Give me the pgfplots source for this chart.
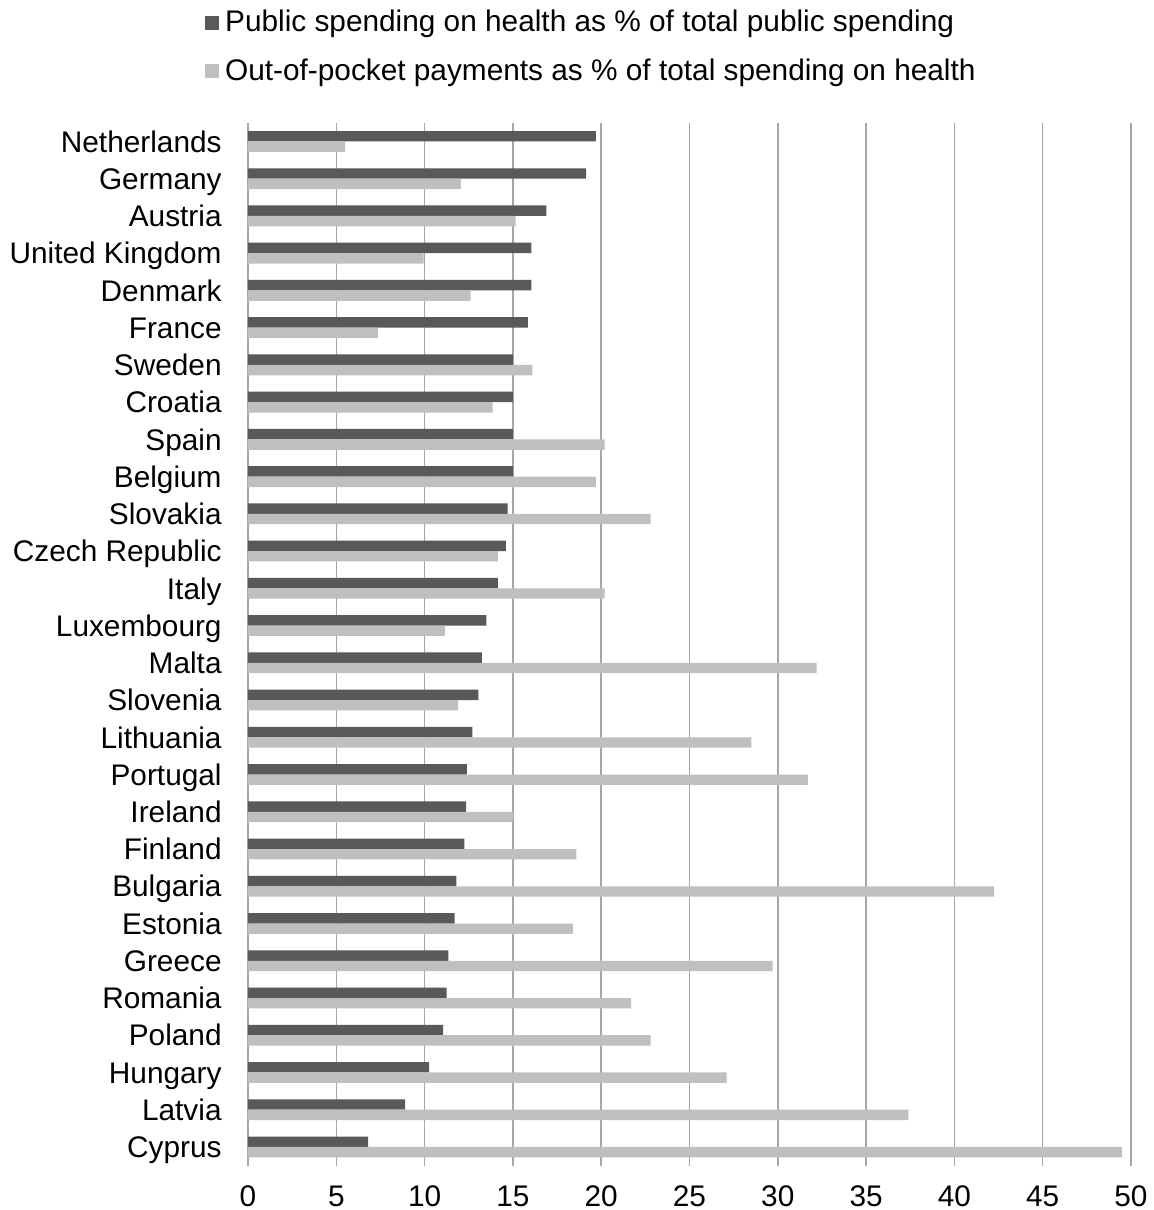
\documentclass[border=0pt]{standalone}
\usepackage{pgfplots}
\pgfplotsset{compat=1.18}
\usepackage{fontspec}
\setmainfont{Liberation Sans}
\definecolor{darkbar}{HTML}{595959}
\definecolor{lightbar}{HTML}{BFBFBF}
\definecolor{gridc}{HTML}{A6A6A6}
\begin{document}
\begin{tikzpicture}
\useasboundingbox (-124pt,-22.2pt) rectangle (452.5pt,582.8pt);
\begin{axis}[
  at={(0,0)}, anchor=south west,
  scale only axis, width=441.5pt, height=521.4pt,
  xbar, bar width=5.2pt,
  xmin=0, xmax=50, xtick={0,5,...,50},
  ymin=-0.5, ymax=27.5, ytick={0,...,27},
  yticklabels={Cyprus,Latvia,Hungary,Poland,Romania,Greece,Estonia,Bulgaria,Finland,Ireland,Portugal,Lithuania,Slovenia,Malta,Luxembourg,Italy,Czech Republic,Slovakia,Belgium,Spain,Croatia,Sweden,France,Denmark,United Kingdom,Austria,Germany,Netherlands},
  axis line style={draw=none},
  major tick length=0pt,
  xmajorgrids, grid style={gridc, line width=0.75pt},
  /pgf/number format/assume math mode=true,
  ticklabel style={font=\fontsize{14.9}{18}\selectfont, text=black, inner sep=0pt},
  yticklabel style={anchor=east, xshift=-13pt, text height=10.7pt, text depth=0pt},
  xticklabel style={anchor=north, yshift=-9.5pt, text height=10.7pt, text depth=0pt},
  legend style={at={(-0.049,1.112)}, anchor=north west, draw=none, fill=none,
    font=\fontsize{14.9}{18}\selectfont, inner sep=0pt, row sep=8pt,
    /tikz/every odd column/.append style={column sep=1pt}},
  legend cell align=left,
  legend image code/.code={\fill[#1] (0pt,-3.5pt) rectangle (7pt,3.5pt);},
]
\addplot[fill=darkbar, draw=none, bar shift=2.6pt] coordinates {
(6.8,0) (8.9,1) (10.25,2) (11.05,3) (11.25,4) (11.35,5) (11.7,6) (11.8,7)
(12.25,8) (12.35,9) (12.4,10) (12.7,11) (13.05,12) (13.25,13) (13.5,14)
(14.15,15) (14.6,16) (14.7,17) (15.0,18) (15.0,19) (15.0,20) (15.0,21)
(15.85,22) (16.05,23) (16.05,24) (16.9,25) (19.15,26) (19.7,27)};
\addlegendentry{Public spending on health as \% of total public spending}
\addplot[fill=lightbar, draw=none, bar shift=-2.6pt] coordinates {
(49.5,0) (37.4,1) (27.1,2) (22.8,3) (21.7,4) (29.7,5) (18.4,6) (42.25,7)
(18.6,8) (15.0,9) (31.7,10) (28.5,11) (11.9,12) (32.2,13) (11.15,14)
(20.2,15) (14.15,16) (22.8,17) (19.7,18) (20.2,19) (13.85,20) (16.1,21)
(7.35,22) (12.6,23) (9.95,24) (15.15,25) (12.05,26) (5.5,27)};
\addlegendentry{Out-of-pocket payments as \% of total spending on health}
\end{axis}
\end{tikzpicture}
\end{document}
